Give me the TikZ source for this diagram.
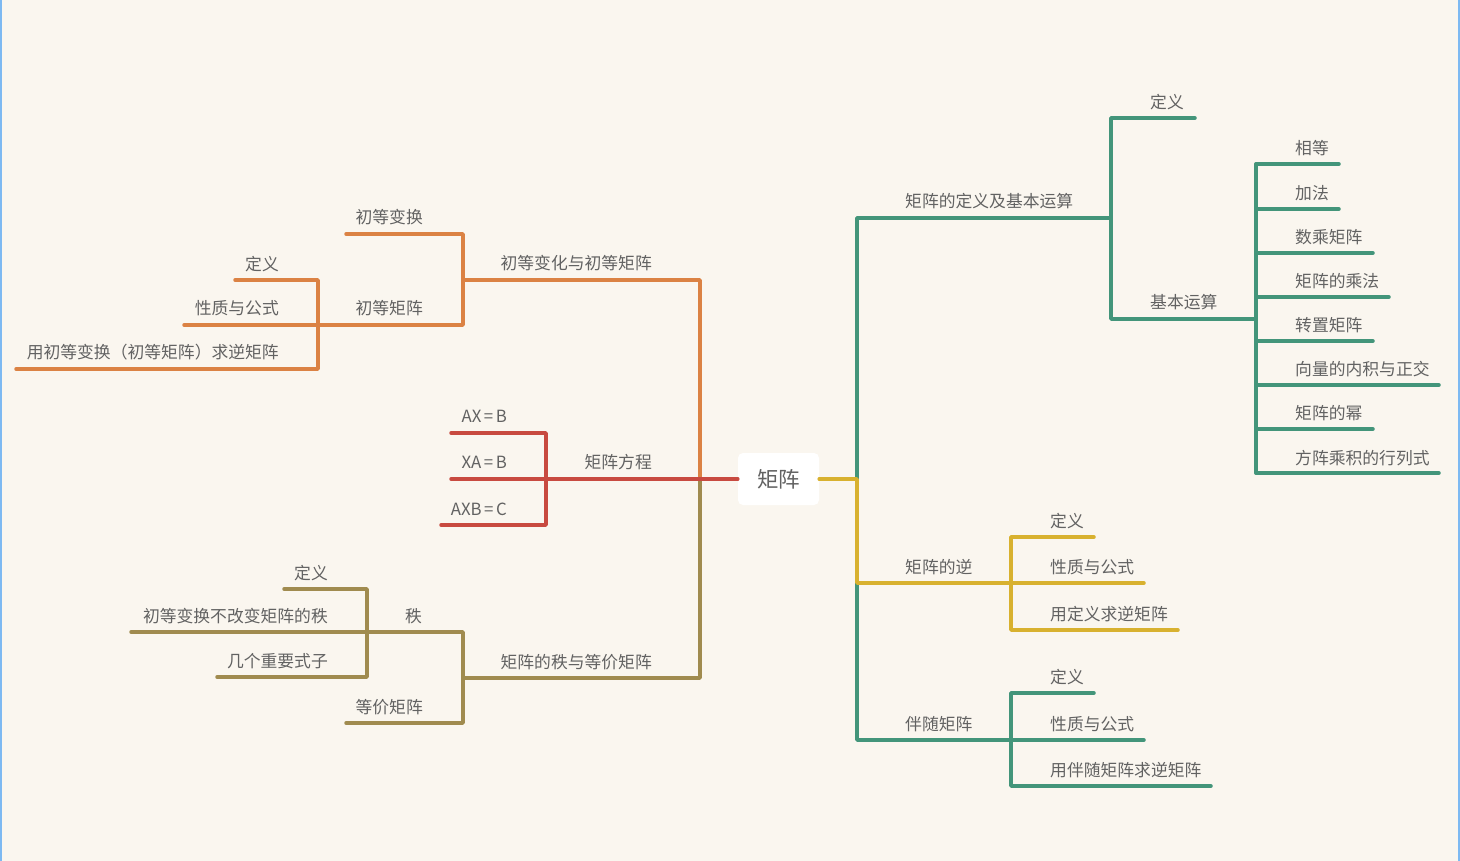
\documentclass[tikz,border=0pt]{standalone}
\usepackage{fontspec}
\newfontfamily\cjk{Noto Sans CJK SC}
\definecolor{bg}{HTML}{FAF6EF}
\definecolor{edge}{HTML}{7DB9F2}
\definecolor{txt}{HTML}{626262}
\definecolor{cgreen}{HTML}{43957A}
\definecolor{corange}{HTML}{DB8244}
\definecolor{cred}{HTML}{C84A40}
\definecolor{colive}{HTML}{A08B4F}
\definecolor{cyellow}{HTML}{D8B12F}
\newcommand{\eqs}{\hspace{2.5pt}=\hspace{2.5pt}}
\begin{document}
\begin{tikzpicture}[x=1pt,y=-1pt,
  lbl/.style={font=\cjk\fontsize{16.8}{20}\selectfont, text=txt, inner sep=0pt, yshift=-7.2pt},
  lw/.style={lbl, anchor=base west},
  le/.style={lbl, anchor=base east},
  br/.style={line width=3.5pt, line cap=round, line join=round}]
\useasboundingbox (0,0) rectangle (1460,861);
\fill[bg] (0,0) rectangle (1460,861);
\coordinate (eTL) at (0.8,0); \coordinate (eBL) at (0.8,861);
\coordinate (eTR) at (1459.2,0); \coordinate (eBR) at (1459.2,861);
\draw[edge, line width=1.6pt] (eTL) -- (eBL);
\draw[edge, line width=1.6pt] (eTR) -- (eBR);

% root
\node[fill=white, rounded corners=5pt, minimum width=81pt, minimum height=52pt, inner sep=0pt,
  font=\cjk\fontsize{21.5}{24}\selectfont, text=txt] (root) at (778.5,479) {矩阵};

% ---------- coordinates right ----------
\coordinate (j0) at (857,479);
\coordinate (b1a) at (857,218); \coordinate (b1b) at (1111,218);
\coordinate (d1) at (1195,118); \coordinate (d1j) at (1111,118);
\coordinate (k1j) at (1111,319); \coordinate (k1b) at (1256,319);
\foreach \n/\y/\x in {c1/164/1339, c2/209/1339, c3/253/1373, c4/297/1389, c5/341/1373, c6/385/1439, c7/429/1373, c8/473/1439}{
  \coordinate (\n j) at (1256,\y); \coordinate (\n) at (\x,\y);
}
\coordinate (b2a) at (857,583); \coordinate (b2b) at (1011,583);
\coordinate (n1j) at (1011,537); \coordinate (n1) at (1094,537);
\coordinate (n2) at (1144,583);
\coordinate (n3j) at (1011,630); \coordinate (n3) at (1178,630);
\coordinate (b3a) at (857,740); \coordinate (b3b) at (1011,740);
\coordinate (a1j) at (1011,693); \coordinate (a1) at (1094,693);
\coordinate (a2) at (1144,740);
\coordinate (a3j) at (1011,786); \coordinate (a3) at (1211,786);

% ---------- coordinates left ----------
\coordinate (m0) at (700,479);
\coordinate (eqj) at (546,479);
\coordinate (q1j) at (546,433); \coordinate (q1) at (451,433);
\coordinate (q2) at (451,479);
\coordinate (q3j) at (546,525); \coordinate (q3) at (441,525);
\coordinate (o0) at (700,280); \coordinate (oj) at (463,280);
\coordinate (o1j) at (463,234); \coordinate (o1) at (346,234);
\coordinate (o2j) at (463,325); \coordinate (o2) at (318,325);
\coordinate (p1j) at (318,280); \coordinate (p1) at (235,280);
\coordinate (p2) at (184,325);
\coordinate (p3j) at (318,369); \coordinate (p3) at (16,369);
\coordinate (r0) at (700,678); \coordinate (rj) at (463,678);
\coordinate (r1j) at (463,632); \coordinate (r1) at (367,632);
\coordinate (r2j) at (463,723); \coordinate (r2) at (346,723);
\coordinate (s1j) at (367,589); \coordinate (s1) at (284,589);
\coordinate (s2) at (131,632);
\coordinate (s3j) at (367,677); \coordinate (s3) at (217,677);

% ---------- green ----------
\draw[br, cgreen] (j0) -- (b1a) -- (b1b);
\draw[br, cgreen] (d1) -- (d1j) -- (k1j) -- (k1b);
\draw[br, cgreen] (c1j) -- (c8j);
\foreach \n in {c1,c2,c3,c4,c5,c6,c7,c8}{\draw[br, cgreen] (\n j) -- (\n);}
\draw[br, cgreen] (j0) -- (b3a) -- (b3b);
\draw[br, cgreen] (a1) -- (a1j) -- (a3j) -- (a3);
\draw[br, cgreen] (b3b) -- (a2);
% ---------- yellow ----------
\draw[br, cyellow] (root.east) -- (j0) -- (b2a) -- (b2b);
\draw[br, cyellow] (n1) -- (n1j) -- (n3j) -- (n3);
\draw[br, cyellow] (b2b) -- (n2);
% ---------- orange ----------
\draw[br, corange] (m0) -- (o0) -- (oj);
\draw[br, corange] (o1) -- (o1j) -- (o2j) -- (o2);
\draw[br, corange] (p1) -- (p1j) -- (p3j) -- (p3);
\draw[br, corange] (o2) -- (p2);
% ---------- olive ----------
\draw[br, colive] (m0) -- (r0) -- (rj);
\draw[br, colive] (r1) -- (r1j) -- (r2j) -- (r2);
\draw[br, colive] (s1) -- (s1j) -- (s3j) -- (s3);
\draw[br, colive] (r1) -- (s2);
% ---------- red ----------
\draw[br, cred] (root.west) -- (eqj);
\draw[br, cred] (q1) -- (q1j) -- (q3j) -- (q3);
\draw[br, cred] (eqj) -- (q2);

% ---------- labels right ----------
\node[lw] (t1) at (905,200) {矩阵的定义及基本运算};
\node[lw] (t11) at (1150,101) {定义};
\node[lw] (t12) at (1150,301) {基本运算};
\node[lw] (t121) at (1295,147) {相等};
\node[lw] (t122) at (1295,192) {加法};
\node[lw] (t123) at (1295,236) {数乘矩阵};
\node[lw] (t124) at (1295,280) {矩阵的乘法};
\node[lw] (t125) at (1295,324) {转置矩阵};
\node[lw] (t126) at (1295,368) {向量的内积与正交};
\node[lw] (t127) at (1295,412) {矩阵的幂};
\node[lw] (t128) at (1295,457) {方阵乘积的行列式};
\node[lw] (t2) at (905,566) {矩阵的逆};
\node[lw] (t21) at (1050,520) {定义};
\node[lw] (t22) at (1050,566) {性质与公式};
\node[lw] (t23) at (1050,613) {用定义求逆矩阵};
\node[lw] (t3) at (905,723) {伴随矩阵};
\node[lw] (t31) at (1050,676) {定义};
\node[lw] (t32) at (1050,723) {性质与公式};
\node[lw] (t33) at (1050,769) {用伴随矩阵求逆矩阵};

% ---------- labels left ----------
\node[le] (u1) at (652,262) {初等变化与初等矩阵};
\node[le] (u11) at (423,216) {初等变换};
\node[le] (u12) at (423,307) {初等矩阵};
\node[le] (u121) at (279,263) {定义};
\node[le] (u122) at (279,307) {性质与公式};
\node[le] (u123) at (279,351) {用初等变换（初等矩阵）求逆矩阵};
\node[le] (u2) at (652,461) {矩阵方程};
\node[le] (u21) at (507,415) {AX\eqs B};
\node[le] (u22) at (507,461) {XA\eqs B};
\node[le] (u23) at (507,508) {AXB\eqs C};
\node[le] (u3) at (652,661) {矩阵的秩与等价矩阵};
\node[le] (u31) at (422,615) {秩};
\node[le] (u32) at (423,706) {等价矩阵};
\node[le] (u311) at (328,572) {定义};
\node[le] (u312) at (328,615) {初等变换不改变矩阵的秩};
\node[le] (u313) at (328,660) {几个重要式子};
\end{tikzpicture}
\end{document}
